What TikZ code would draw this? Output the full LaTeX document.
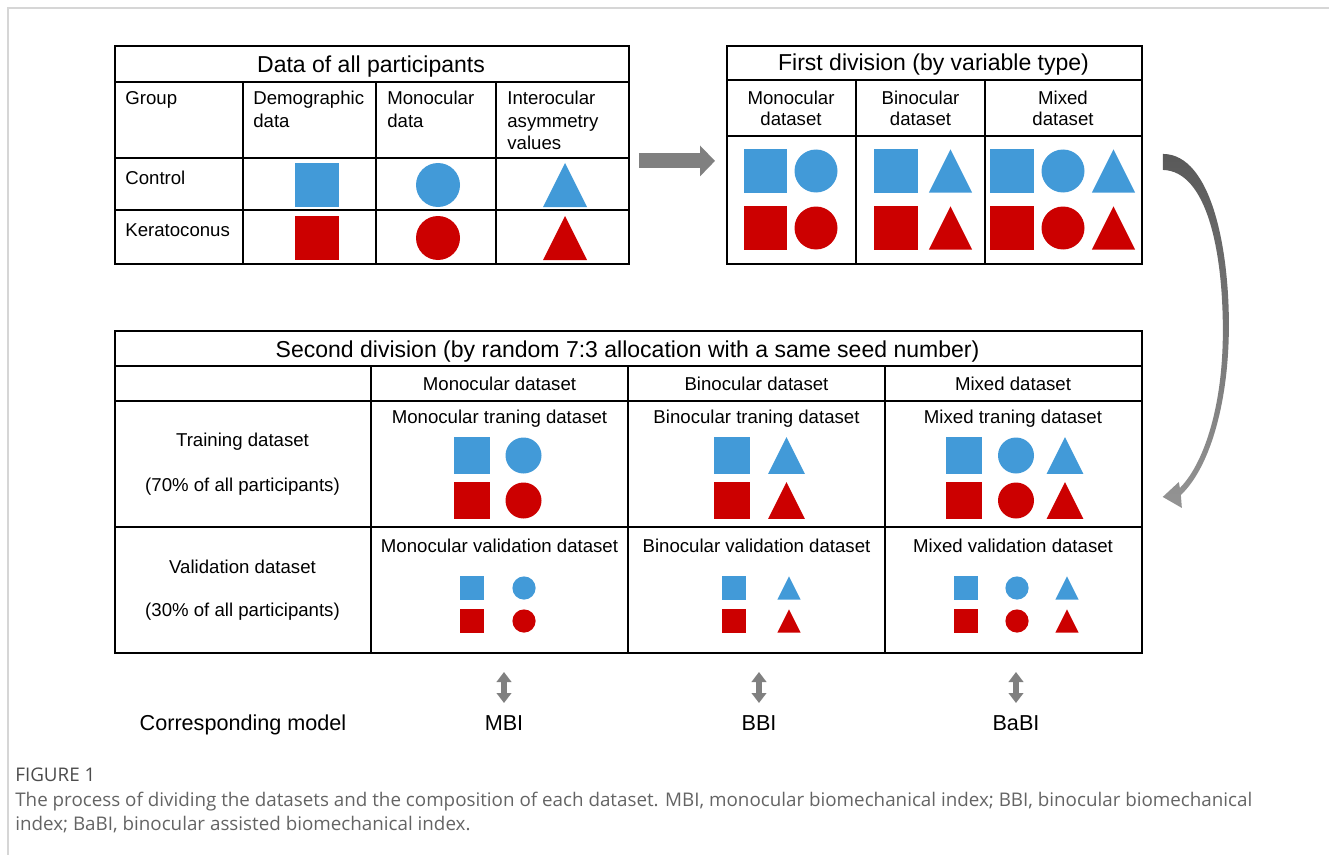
\documentclass[tikz,border=0pt]{standalone}
\usepackage{fontspec}
\setmainfont{Liberation Sans}
\newfontfamily\capfont{Open Sans}
\usepackage{tikz}
\usetikzlibrary{arrows.meta,positioning,calc}
\definecolor{CtrlBlue}{RGB}{66,154,216}
\definecolor{KeraRed}{RGB}{204,0,0}
\definecolor{ArrowGray}{RGB}{128,128,128}
\definecolor{CapGray}{RGB}{100,100,100}
\definecolor{FrameGray}{RGB}{214,214,214}

\begin{document}
\begin{tikzpicture}[
    x=0.02cm, y=-0.02cm,
    tablebox/.style={draw, line width=1.1pt, anchor=north west, inner sep=0pt},
    tabrule/.style={line width=1.1pt},
    ttl/.style={font=\fontsize{13.1}{15.7}\selectfont, inner sep=0pt},
    txt/.style={font=\fontsize{10.6}{12.7}\selectfont, inner sep=0pt},
    mdl/.style={font=\fontsize{12.3}{14.8}\selectfont, inner sep=0pt, anchor=base},
    fatarrow/.style={-{Triangle[length=0.3cm, width=0.6cm]}, line width=0.3cm, draw=ArrowGray},
    dblarrow/.style={{Triangle[length=0.2cm, width=0.29cm]}-{Triangle[length=0.2cm, width=0.29cm]}, line width=0.12cm, draw=ArrowGray},
    captxt/.style={font=\capfont\fontsize{10.7}{13.7}\selectfont, text=CapGray, inner sep=0pt, align=left},
    sqpic/.pic={\fill (-1,-1) rectangle (1,1);},
    cirpic/.pic={\fill (0,0) circle[radius=1];},
    tripic/.pic={\fill (-1,1) -- (0,-1) -- (1,1) -- cycle;}
  ]
    \useasboundingbox (0,0) rectangle (1329,855);
    \draw[FrameGray, line width=1.2pt] (8,855) -- (8,8) -- (1329,8);

    % data of all participants
    \node[tablebox, minimum width=10.28cm, minimum height=4.36cm] (allbox) at (114,45) {};
    \draw[tabrule] (114,82) -- (628,82) (114,158) -- (628,158) (114,210) -- (628,210);
    \draw[tabrule] (243,82) -- (243,263) (376,82) -- (376,263) (496,82) -- (496,263);
    \node[ttl] (alltitle) at (371,66.5) {Data of all participants};
    \node[txt, anchor=north west, align=left] (hgroup) at (125,91) {Group};
    \node[txt, anchor=north west, align=left] (hdemo) at (253,91) {Demographic\\data};
    \node[txt, anchor=north west, align=left] (hmono) at (387,91) {Monocular\\data};
    \node[txt, anchor=north west, align=left] (hinter) at (507,91) {Interocular\\asymmetry\\values};
    \node[txt, anchor=west] (control) at (125,178) {Control};
    \node[txt, anchor=west] (kerato) at (125,230) {Keratoconus};
    \foreach \yy/\cc in {185/CtrlBlue, 238/KeraRed} {
      \pic[\cc, scale=22] at (317,\yy) {sqpic};
      \pic[\cc, scale=22] at (438,\yy) {cirpic};
      \pic[\cc, scale=22] at (565,\yy) {tripic};
    }

    % first division
    \node[tablebox, minimum width=8.3cm, minimum height=4.36cm] (firstbox) at (726,45) {};
    \draw[tabrule] (726,80) -- (1141,80) (726,136) -- (1141,136);
    \draw[tabrule] (856,80) -- (856,263) (985,80) -- (985,263);
    \node[ttl] (firsttitle) at (933.5,65) {First division (by variable type)};
    \node[txt, font=\fontsize{10.6}{12}\selectfont, anchor=north, align=center] (fmono) at (791,91) {Monocular\\dataset};
    \node[txt, font=\fontsize{10.6}{12}\selectfont, anchor=north, align=center] (fbino) at (920.5,91) {Binocular\\dataset};
    \node[txt, font=\fontsize{10.6}{12}\selectfont, anchor=north, align=center] (fmix) at (1063,91) {Mixed\\dataset};
    \foreach \yy/\cc in {171/CtrlBlue, 228/KeraRed} {
      \pic[\cc, scale=21.7] at (765.5,\yy) {sqpic};
      \pic[\cc, scale=21.5] at (816,\yy) {cirpic};
      \pic[\cc, scale=21.7] at (896,\yy) {sqpic};
      \pic[\cc, scale=21.7] at (950.5,\yy) {tripic};
      \pic[\cc, scale=21.7] at (1012,\yy) {sqpic};
      \pic[\cc, scale=21.5] at (1063,\yy) {cirpic};
      \pic[\cc, scale=21.7] at (1113.5,\yy) {tripic};
    }

    % second division
    \node[tablebox, minimum width=20.54cm, minimum height=6.44cm] (secondbox) at (114,330) {};
    \draw[tabrule] (114,366) -- (1141,366) (114,401) -- (1141,401) (114,527) -- (1141,527);
    \draw[tabrule] (371,366) -- (371,652) (628,366) -- (628,652) (885,366) -- (885,652);
    \node[ttl] (secondtitle) at (627.5,351.5) {Second division (by random 7:3 allocation with a same seed number)};
    \node[txt] (smono) at (499.5,384) {Monocular dataset};
    \node[txt] (sbino) at (756.5,384) {Binocular dataset};
    \node[txt] (smix) at (1013,384) {Mixed dataset};
    \node[txt] (trainlbl) at (242.5,442) {Training dataset};
    \node[txt] (trainpct) at (242.5,487) {(70\% of all participants)};
    \node[txt] (validlbl) at (242.5,567) {Validation dataset};
    \node[txt] (validpct) at (242.5,612) {(30\% of all participants)};
    \node[txt] (trmono) at (499.5,419) {Monocular traning dataset};
    \node[txt] (trbino) at (756.5,419) {Binocular traning dataset};
    \node[txt] (trmix) at (1013,419) {Mixed traning dataset};
    \node[txt] (vamono) at (499.5,546) {Monocular validation dataset};
    \node[txt] (vabino) at (756.5,546) {Binocular validation dataset};
    \node[txt] (vamix) at (1013,546) {Mixed validation dataset};
    \foreach \yy/\cc in {455.5/CtrlBlue, 500.5/KeraRed} {
      \pic[\cc, scale=18.3] at (472,\yy) {sqpic};
      \pic[\cc, scale=18] at (523.5,\yy) {cirpic};
      \pic[\cc, scale=18.3] at (732,\yy) {sqpic};
      \pic[\cc, scale=18.3] at (786.5,\yy) {tripic};
      \pic[\cc, scale=18.3] at (964,\yy) {sqpic};
      \pic[\cc, scale=18] at (1016,\yy) {cirpic};
      \pic[\cc, scale=18.3] at (1065,\yy) {tripic};
    }
    \foreach \yy/\cc in {588/CtrlBlue, 621/KeraRed} {
      \pic[\cc, scale=11.7] at (472,\yy) {sqpic};
      \pic[\cc, scale=11.6] at (524,\yy) {cirpic};
      \pic[\cc, scale=11.7] at (734,\yy) {sqpic};
      \pic[\cc, scale=11.7] at (789,\yy) {tripic};
      \pic[\cc, scale=11.7] at (966,\yy) {sqpic};
      \pic[\cc, scale=11.6] at (1017,\yy) {cirpic};
      \pic[\cc, scale=11.7] at (1067,\yy) {tripic};
    }

    % models
    \node[mdl] (corr) at (243,730) {Corresponding model};
    \node[mdl] (mbi) at (504,730) {MBI};
    \node[mdl] (bbi) at (759,730) {BBI};
    \node[mdl] (babi) at (1016,730) {BaBI};
    \draw[dblarrow] ($(mbi.base)+(0,-27)$) -- ($(mbi.base)+(0,-58)$);
    \draw[dblarrow] ($(bbi.base)+(0,-27)$) -- ($(bbi.base)+(0,-58)$);
    \draw[dblarrow] ($(babi.base)+(0,-27)$) -- ($(babi.base)+(0,-58)$);

    % arrows between tables
    \draw[fatarrow] ($(allbox.east)+(9,6)$) -- ($(firstbox.west)+(-11,6)$);
    \coordinate (bendtop) at ($(firstbox.east)+(20,-1)$);
    \coordinate (bendtip) at ($(secondbox.east)+(20,5)$);
    \shade[top color=black!65, bottom color=black!42, shift={(bendtop)}]
      (0,0) .. controls (49,0) and (67,97) .. (66,177)
      .. controls (65,257) and (44,317) .. (18,341)
      -- (19,354) -- (bendtip) -- (16,328) -- (17,334)
      .. controls (39,312) and (60,257) .. (60,177)
      .. controls (60,97) and (44,17) .. (0,16) -- cycle;

    % caption
    \node[captxt, text=black!70, anchor=west] (figlabel) at (15,775) {FIGURE 1};
    \node[captxt, anchor=north west] (caption) at (15,792) {The process of dividing the datasets and the composition of each dataset. MBI, monocular biomechanical index; BBI, binocular biomechanical\\index; BaBI, binocular assisted biomechanical index.};
  \end{tikzpicture}
\end{document}
